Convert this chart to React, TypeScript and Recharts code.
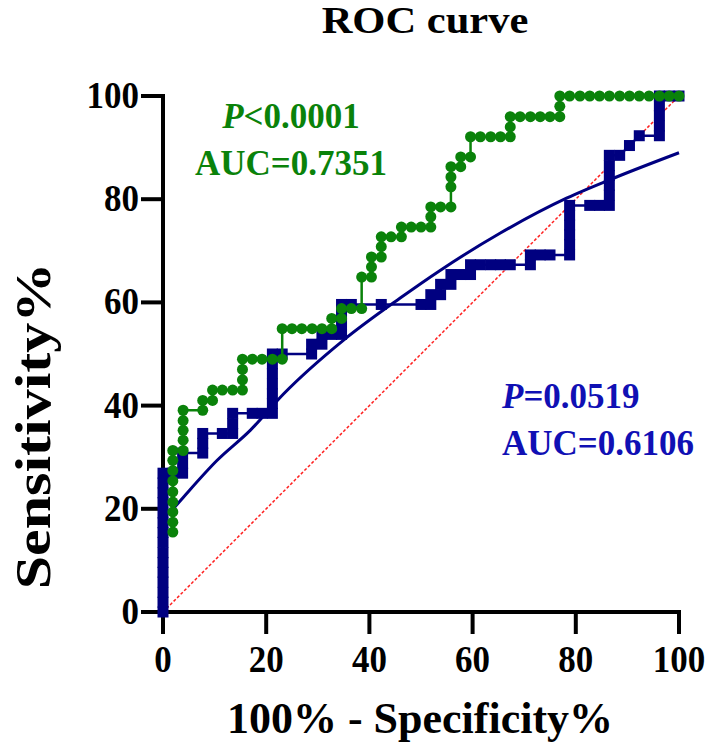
import {
  ComposedChart,
  Line,
  Scatter,
  XAxis,
  YAxis,
} from "recharts";

// green ROC (circles): 100% - specificity, sensitivity
const greenFpr = [
  1.9, 1.9, 1.9, 1.9, 1.9, 1.9, 1.9, 1.9, 1.9, 3.9, 3.9, 3.9, 3.9, 3.9, 7.7, 7.7,
  9.6, 9.6, 11.5, 13.5, 15.4, 15.4, 15.4, 15.4, 17.3, 19.2, 21.2, 23.1, 23.1, 25.0,
  26.9, 28.9, 30.8, 32.7, 32.7, 34.6, 34.6, 36.5, 38.5, 38.5, 40.4, 40.4, 40.4, 42.3,
  42.3, 42.3, 44.2, 46.2, 46.2, 48.1, 50.0, 51.9, 51.9, 51.9, 53.8, 55.8, 55.8, 55.8,
  55.8, 57.7, 57.7, 59.6, 59.6, 61.5, 63.5, 65.4, 67.3, 67.3, 67.3, 69.2, 71.2, 73.1,
  75.0, 76.9, 76.9, 76.9, 78.8, 80.8, 82.7, 84.6, 86.5, 88.5, 90.4, 92.3, 94.2, 96.2,
  98.1, 100,
];
const greenTpr = [
  15.5, 17.4, 19.4, 21.3, 23.3, 25.4, 27.4, 29.4, 31.3, 31.3, 33.3, 35.2, 37.1, 39.1,
  39.1, 41.0, 41.0, 43.0, 43.0, 43.0, 43.0, 45.0, 47.0, 49.0, 49.0, 49.0, 49.0, 49.0,
  54.9, 54.9, 54.9, 54.9, 54.9, 54.9, 56.9, 56.9, 58.8, 58.8, 58.8, 64.9, 64.9, 66.9,
  68.8, 68.8, 70.8, 72.7, 72.7, 72.7, 74.6, 74.6, 74.6, 74.6, 76.6, 78.5, 78.5, 78.5,
  82.4, 84.3, 86.3, 86.3, 88.2, 88.2, 92.1, 92.1, 92.1, 92.1, 92.1, 94.0, 96.0, 96.0,
  96.0, 96.0, 96.0, 96.0, 98.0, 100, 100, 100, 100, 100, 100, 100, 100, 100, 100, 100,
  100, 100,
];

// blue ROC (squares)
const blueFpr = [
  0, 0, 0, 0, 0, 0, 0, 0, 0, 0, 0, 0, 0, 0, 0, 1.9, 3.8, 3.8, 3.8, 7.7, 7.7, 7.7, 11.5,
  13.5, 13.5, 13.5, 17.3, 19.2, 21.2, 21.2, 21.2, 21.2, 21.2, 21.2, 21.2, 23.1, 28.8,
  28.8, 30.8, 30.8, 32.7, 34.6, 34.6, 34.6, 34.6, 36.5, 42.3, 50.0, 51.9, 51.9, 53.8,
  53.8, 55.8, 55.8, 57.7, 59.6, 59.6, 61.5, 63.5, 65.4, 67.3, 71.2, 71.2, 73.1, 75.0,
  78.8, 78.8, 78.8, 78.8, 78.8, 78.8, 82.7, 84.6, 86.5, 86.5, 86.5, 86.5, 86.5, 86.5,
  88.5, 90.4, 92.3, 96.2, 96.2, 96.2, 96.2, 96.2, 98.1, 100,
];
const blueTpr = [
  0, 1.9, 3.8, 5.8, 7.7, 9.6, 11.5, 13.5, 15.4, 17.3, 19.2, 21.2, 23.1, 25.0, 26.9,
  26.9, 26.9, 28.8, 30.8, 30.8, 32.7, 34.6, 34.6, 34.6, 36.5, 38.5, 38.5, 38.5, 38.5,
  40.4, 42.3, 44.2, 46.2, 48.1, 50.0, 50.0, 50.0, 51.9, 51.9, 53.8, 53.8, 53.8, 55.8,
  57.7, 59.6, 59.6, 59.6, 59.6, 59.6, 61.5, 61.5, 63.5, 63.5, 65.4, 65.4, 65.4, 67.3,
  67.3, 67.3, 67.3, 67.3, 67.3, 69.2, 69.2, 69.2, 69.2, 71.2, 73.1, 75.0, 76.9, 78.8,
  78.8, 78.8, 78.8, 80.8, 82.7, 84.6, 86.5, 88.5, 88.5, 90.4, 92.3, 92.3, 94.2, 96.2,
  98.1, 100, 100, 100,
];

// fitted (smooth) curve for the blue model
const fitFpr = [1.1, 4, 10.5, 16.9, 23.4, 35, 45.9, 53.7, 65.3, 78.2, 87.9, 100];
const fitTpr = [19.0, 22.3, 29.4, 35.2, 42.3, 52.7, 60.8, 66.2, 73.4, 80.2, 84.3, 89.0];

const chanceFpr = [0, 100];
const chanceTpr = [0, 100];

const axisTicks = [0, 20, 40, 60, 80, 100];

const title = "ROC curve";
const xTitle = "100% - Specificity%";
const yTitle = "Sensitivity%";
const greenStats = ["<0.0001", "AUC=0.7351"];
const blueStats = ["=0.0519", "AUC=0.6106"];

const zip = (xs: number[], ys: number[]) => xs.map((x, i) => ({ x, y: ys[i] }));

const greenData = zip(greenFpr, greenTpr);
const blueData = zip(blueFpr, blueTpr);
const fitData = zip(fitFpr, fitTpr);
const chanceData = zip(chanceFpr, chanceTpr);

const FONT = "'Liberation Serif', 'Times New Roman', serif";
const GREEN = "#0a820a";
const NAVY = "#000080";
const TEXT_BLUE = "#1010b4";

function GreenDot(props: any) {
  const { cx, cy } = props;
  if (cx == null || cy == null) return null;
  return <circle cx={cx} cy={cy} r={5.5} fill={GREEN} />;
}

function BlueSquare(props: any) {
  const { cx, cy } = props;
  if (cx == null || cy == null) return null;
  return <rect x={cx - 5.5} y={cy - 5.5} width={11} height={11} fill={NAVY} />;
}

function XTick(props: any) {
  const { x, y, payload } = props;
  return (
    <text
      transform={`translate(${x}, ${y + 36}) scale(1, 1.1)`}
      textAnchor="middle"
      fontFamily={FONT}
      fontWeight="bold"
      fontSize={35}
      fill="#000"
    >
      {payload.value}
    </text>
  );
}

function YTick(props: any) {
  const { x, y, payload } = props;
  return (
    <text
      transform={`translate(${x}, ${y + 12}) scale(1, 1.1)`}
      textAnchor="end"
      fontFamily={FONT}
      fontWeight="bold"
      fontSize={35}
      fill="#000"
    >
      {payload.value}
    </text>
  );
}

const axisLine = { stroke: "#000", strokeWidth: 4, strokeLinecap: "square" as const };
const tickLine = { stroke: "#000", strokeWidth: 4 };

export default function App() {
  return (
    <div style={{ position: "absolute", left: 0, top: 0, width: 709, height: 750, background: "#fff" }}>
      <ComposedChart
        width={709}
        height={750}
        margin={{ top: 96, right: 30, bottom: 38, left: 0 }}
      >
        <XAxis
          type="number"
          dataKey="x"
          domain={[0, 100]}
          ticks={axisTicks}
          height={100}
          tickSize={22}
          tickMargin={2}
          axisLine={axisLine}
          tickLine={tickLine}
          tick={<XTick />}
        />
        <YAxis
          type="number"
          dataKey="y"
          domain={[0, 100]}
          ticks={axisTicks}
          width={163}
          tickSize={22}
          tickMargin={2}
          axisLine={axisLine}
          tickLine={tickLine}
          tick={<YTick />}
        />
        <Line
          data={chanceData}
          dataKey="y"
          type="linear"
          stroke="#ff2020"
          strokeWidth={1.5}
          strokeDasharray="3 2"
          dot={false}
          activeDot={false}
          isAnimationActive={false}
        />
        <Scatter
          data={blueData}
          line={{ stroke: NAVY, strokeWidth: 2.5 }}
          lineType="joint"
          shape={<BlueSquare />}
          isAnimationActive={false}
        />
        <Scatter
          data={greenData}
          line={{ stroke: GREEN, strokeWidth: 2.5 }}
          lineType="joint"
          shape={<GreenDot />}
          isAnimationActive={false}
        />
        <Line
          data={fitData}
          dataKey="y"
          type="monotone"
          stroke={NAVY}
          strokeWidth={3}
          dot={false}
          activeDot={false}
          isAnimationActive={false}
        />
      </ComposedChart>
      <svg
        width={709}
        height={750}
        style={{ position: "absolute", left: 0, top: 0, pointerEvents: "none" }}
      >
        <g fontFamily={FONT} fontWeight="bold">
          <text
            transform="translate(425, 33) scale(1.15, 1)"
            textAnchor="middle"
            fontSize={37}
            fill="#000"
          >
            {title}
          </text>
          <text x={420} y={733} textAnchor="middle" fontSize={44} fill="#000">
            {xTitle}
          </text>
          <text
            transform="translate(50, 426) rotate(-90) scale(1.2, 1)"
            textAnchor="middle"
            fontSize={50}
            fill="#000"
          >
            {yTitle}
          </text>
          <text x={291} y={128} textAnchor="middle" fontSize={35} fill={GREEN}>
            <tspan fontStyle="italic">P</tspan>
            {greenStats[0]}
          </text>
          <text x={291} y={175} textAnchor="middle" fontSize={35} fill={GREEN}>
            {greenStats[1]}
          </text>
          <text x={502} y={408} textAnchor="start" fontSize={35} fill={TEXT_BLUE}>
            <tspan fontStyle="italic">P</tspan>
            {blueStats[0]}
          </text>
          <text x={502} y={455} textAnchor="start" fontSize={35} fill={TEXT_BLUE}>
            {blueStats[1]}
          </text>
        </g>
      </svg>
    </div>
  );
}
